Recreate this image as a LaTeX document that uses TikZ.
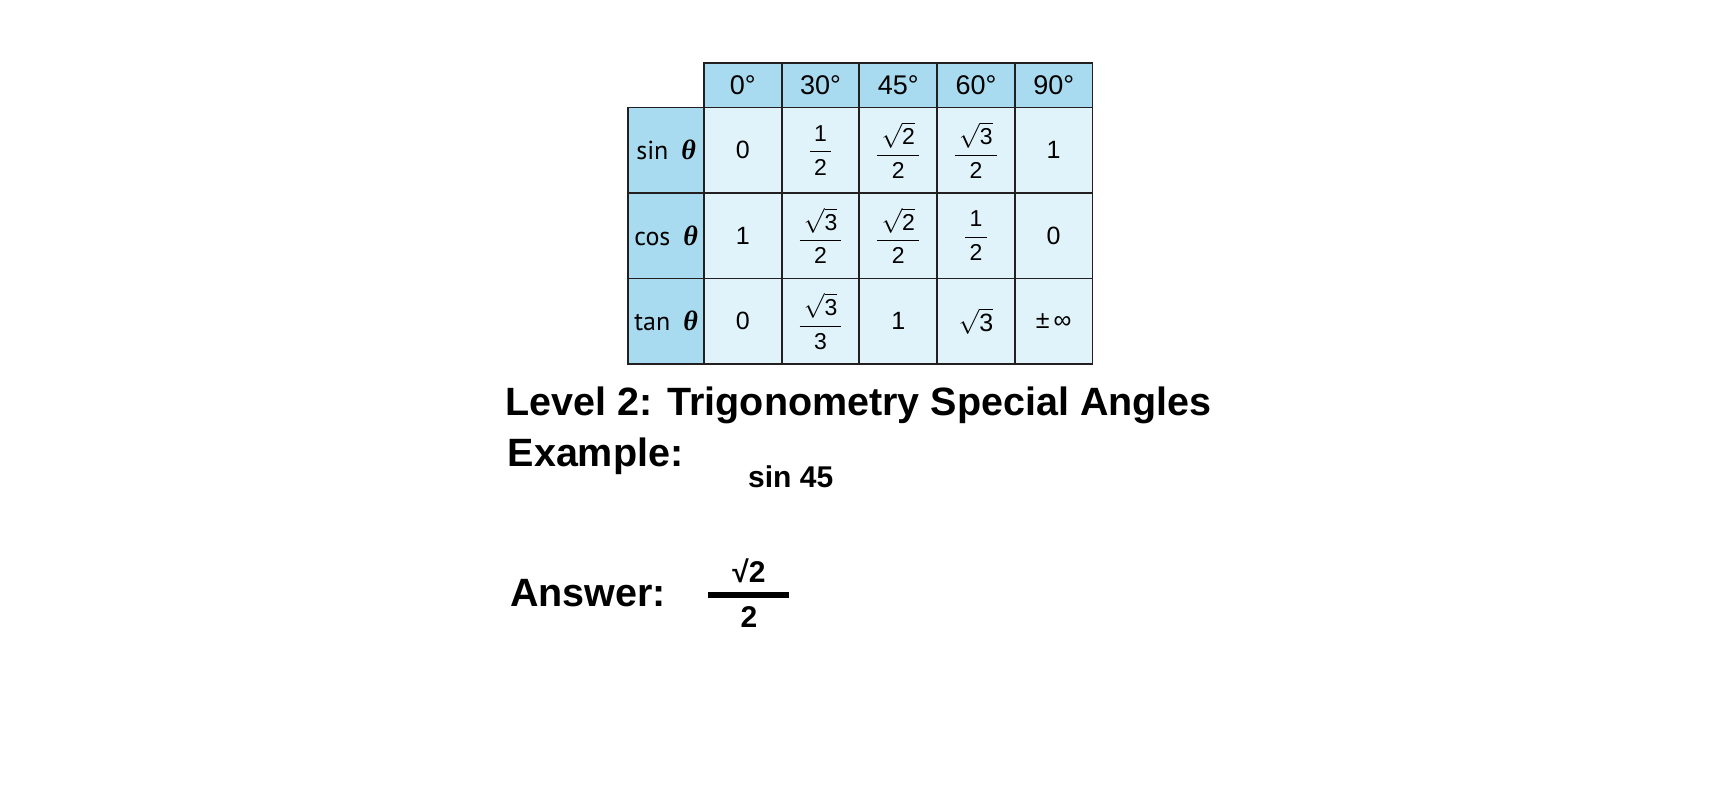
\documentclass[tikz,border=0pt]{standalone}
\usepackage{amsmath}
\usepackage{fontspec}
\setmainfont{Liberation Sans}
\newfontfamily\tabfont{PT Sans}
\newfontfamily\greekfont{Liberation Serif}
\usetikzlibrary{positioning}
\definecolor{headblue}{HTML}{A9DBF0}
\definecolor{cellblue}{HTML}{E0F2FA}
\definecolor{rulegray}{HTML}{231F20}
\tikzset{font=\fontsize{25}{25}\selectfont}
\tikzset{cellbox/.style={draw=rulegray, line width=1.9pt, inner sep=0pt, minimum width=77.7pt, minimum height=85.5pt, fill=cellblue}}
\tikzset{headbox/.style={cellbox, minimum height=44.2pt, fill=headblue, font=\fontsize{27}{27}\selectfont}}
\tikzset{rowbox/.style={cellbox, minimum width=75.7pt, fill=headblue, font=\tabfont\fontsize{26}{26}\selectfont}}
\tikzset{bigtext/.style={anchor=base west, inner sep=0pt, font=\bfseries\fontsize{39.5}{40}\selectfont}}
\tikzset{smalltext/.style={inner sep=0pt, font=\bfseries\fontsize{30}{30}\selectfont}}
\newcommand{\rt}[1]{$\sqrt{\text{#1}}$}
\newcommand{\fr}[2]{$\dfrac{\,\text{\fontsize{23}{23}\selectfont #1}\,}{\text{\fontsize{23}{23}\selectfont #2}}$}
\newcommand{\thetab}{{\greekfont\bfseries\itshape\fontsize{28}{28}\selectfont θ}}
\begin{document}
\begin{tikzpicture}[x=1pt, y=-1pt]
\fill[white] (0,0) rectangle (1720,800);
\useasboundingbox (0,0) rectangle (1720,800);
\foreach \ang [count=\i from 0] in {0,30,45,60,90}
  \node[headbox] (h\i) at ({742.85+77.7*\i},85.4) {\ang\textdegree};
\foreach \fname [count=\k from 0] in {sin,cos,tan}
  \node[rowbox] (r\k) at (666.15,{150.25+85.5*\k}) {\fname\enspace\thetab};
\foreach \v [count=\i from 0] in {0,\fr12,\fr{\rt2}2,\fr{\rt3}2,1,
    1,\fr{\rt3}2,\fr{\rt2}2,\fr12,0,
    0,\fr{\rt3}3,1,\rt3,{±\,∞}}{
  \pgfmathtruncatemacro\cc{mod(\i,5)}
  \pgfmathtruncatemacro\rr{div(\i,5)}
  \node[cellbox] (v\rr\cc) at ({742.85+77.7*\cc},{150.25+85.5*\rr}) {\v};
}
\node[bigtext] (title) at (505.5,415) {Level 2: Trigonometry Special Angles};
\node[bigtext] (example) at (507.5,466) {Example:};
\node[smalltext, anchor=base west] (expr) at (748,487) {sin 45};
\node[bigtext] (answer) at (510,606) {Answer:};
\coordinate (barL) at (708,595);
\coordinate (barR) at (789,595);
\draw[line width=6pt] (barL) -- (barR);
\node[smalltext, anchor=base] (num) at (749,582) {√2};
\node[smalltext, anchor=base] (den) at (749,627) {2};
\end{tikzpicture}
\end{document}
